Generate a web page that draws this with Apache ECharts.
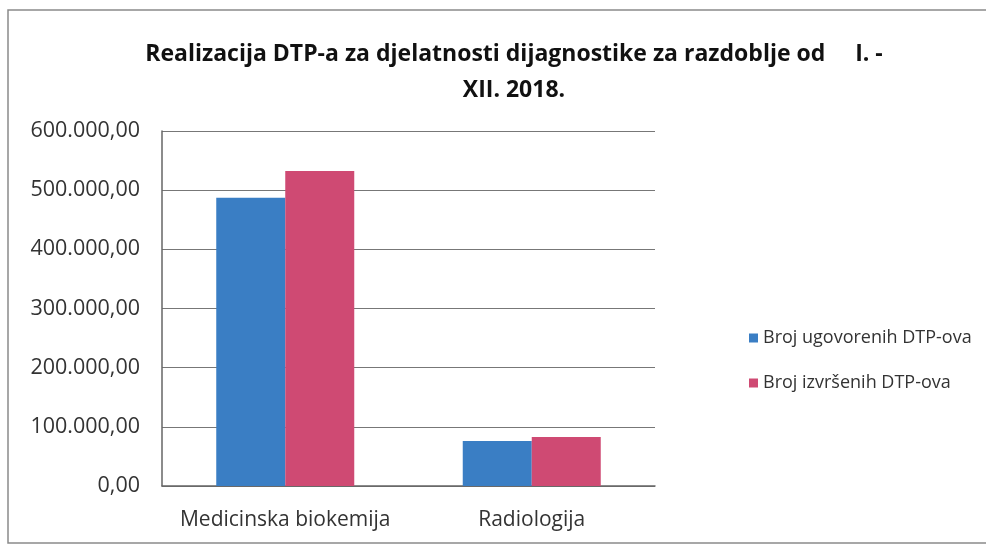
<!DOCTYPE html>
<html>
<head>
<meta charset="utf-8">
<script src="https://cdn.jsdelivr.net/npm/echarts@6/dist/echarts.min.js"></script>
<style>
  html, body { margin: 0; padding: 0; background: #fff; }
  #chart { width: 986px; height: 545px; }
</style>
</head>
<body>
<div id="chart"></div>
<script>
const categories = ['Medicinska biokemija', 'Radiologija'];
const seriesNames = ['Broj ugovorenih DTP-ova', 'Broj izvršenih DTP-ova'];
const ugovoreni = [487000, 76000];
const izvrseni = [532500, 83000];
const titleLines = ['Realizacija DTP-a za djelatnosti dijagnostike za razdoblje od     I. -', 'XII. 2018.'];

function formatHr(v) {
  const parts = v.toFixed(2).split('.');
  return parts[0].replace(/\B(?=(\d{3})+(?!\d))/g, '.') + ',' + parts[1];
}

const chart = echarts.init(document.getElementById('chart'));
const font = '"Open Sans", sans-serif';

chart.setOption({
  animation: false,
  textStyle: { fontFamily: font },
  title: {
    text: titleLines.join('\n'),
    left: 509,
    textAlign: 'center',
    top: 31,
    textStyle: { fontSize: 23, fontWeight: 'bold', color: '#111', lineHeight: 36, fontFamily: font }
  },
  graphic: [{
    type: 'rect',
    shape: { x: 8, y: 10, width: 990, height: 533 },
    style: { fill: 'none', stroke: '#8a8a8a', lineWidth: 1.5 },
    silent: true
  }],
  legend: {
    orient: 'vertical',
    left: 744,
    top: 324,
    itemWidth: 9,
    itemHeight: 9,
    itemGap: 27,
    icon: 'rect',
    textStyle: { fontSize: 18, color: '#333', fontFamily: font }
  },
  grid: { left: 162, right: 331, top: 131, bottom: 59 },
  xAxis: {
    type: 'category',
    data: categories,
    axisLine: { lineStyle: { color: '#666', width: 1.5 } },
    axisTick: { show: false },
    axisLabel: { fontSize: 21, color: '#333', margin: 24, interval: 0, fontFamily: font }
  },
  yAxis: {
    type: 'value',
    min: 0,
    max: 600000,
    interval: 100000,
    axisLine: { show: true, lineStyle: { color: '#666', width: 1.5 } },
    axisTick: { show: false },
    splitLine: { lineStyle: { color: '#777', width: 1.2 } },
    axisLabel: { fontSize: 21.5, color: '#333', margin: 22, formatter: formatHr, fontFamily: font }
  },
  series: [
    {
      name: seriesNames[0],
      type: 'bar',
      data: ugovoreni,
      barWidth: 69,
      barGap: '0%',
      itemStyle: { color: '#3a7ec4' }
    },
    {
      name: seriesNames[1],
      type: 'bar',
      data: izvrseni,
      barWidth: 69,
      itemStyle: { color: '#cf4a73' }
    }
  ]
});
</script>
</body>
</html>
